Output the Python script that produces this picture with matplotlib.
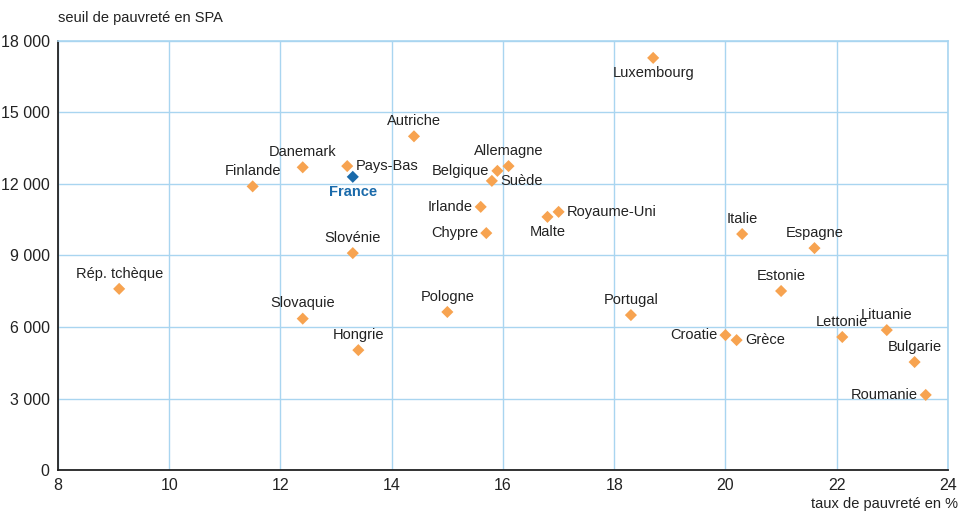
import matplotlib
matplotlib.use('Agg')
import matplotlib.pyplot as plt
from matplotlib.ticker import FuncFormatter

plt.rcParams['font.family'] = ['Liberation Sans Narrow', 'Liberation Sans', 'DejaVu Sans']

pays = ['Rép. tchèque', 'Finlande', 'Danemark', 'Pays-Bas', 'France', 'Slovénie',
        'Slovaquie', 'Hongrie', 'Autriche', 'Pologne', 'Belgique', 'Allemagne',
        'Suède', 'Irlande', 'Chypre', 'Malte', 'Royaume-Uni', 'Luxembourg',
        'Portugal', 'Croatie', 'Grèce', 'Italie', 'Espagne', 'Estonie',
        'Lettonie', 'Lituanie', 'Bulgarie', 'Roumanie']
taux = [9.1, 11.5, 12.4, 13.2, 13.3, 13.3,
        12.4, 13.4, 14.4, 15.0, 15.9, 16.1,
        15.8, 15.6, 15.7, 16.8, 17.0, 18.7,
        18.3, 20.0, 20.2, 20.3, 21.6, 21.0,
        22.1, 22.9, 23.4, 23.6]
seuil = [7600, 11900, 12700, 12750, 12300, 9100,
         6350, 5030, 14000, 6630, 12550, 12750,
         12130, 11040, 9940, 10620, 10830, 17290,
         6500, 5660, 5450, 9900, 9310, 7510,
         5580, 5870, 4530, 3150]

# label placement: where the text sits relative to the marker
place = {
    'Pays-Bas': 'right', 'France': 'below', 'Belgique': 'left', 'Suède': 'right',
    'Irlande': 'left', 'Chypre': 'left', 'Malte': 'below', 'Royaume-Uni': 'right',
    'Luxembourg': 'below', 'Croatie': 'left', 'Grèce': 'right', 'Roumanie': 'left',
}

orange = '#f7a350'
bleu = '#1a6aaa'
grille = '#a9d5f0'

fig = plt.figure(figsize=(9.63, 5.12), dpi=100)
ax = fig.add_axes([0.0602, 0.082, 0.9242, 0.838])

for p, x, y in zip(pays, taux, seuil):
    c = bleu if p == 'France' else orange
    ax.scatter(x, y, marker='D', s=38, color=c, edgecolors='none', zorder=3)
    pos = place.get(p, 'above')
    kw = dict(fontsize=10.5, color='#222222', zorder=4)
    if p == 'France':
        kw.update(color=bleu, fontweight='bold')
    if pos == 'above':
        ax.annotate(p, (x, y), xytext=(0, 6), textcoords='offset points',
                    ha='center', va='bottom', **kw)
    elif pos == 'below':
        ax.annotate(p, (x, y), xytext=(0, -6), textcoords='offset points',
                    ha='center', va='top', **kw)
    elif pos == 'right':
        ax.annotate(p, (x, y), xytext=(6, 0), textcoords='offset points',
                    ha='left', va='center', **kw)
    else:
        ax.annotate(p, (x, y), xytext=(-6, 0), textcoords='offset points',
                    ha='right', va='center', **kw)

ax.set_xlim(8, 24)
ax.set_ylim(0, 18000)
ax.set_xticks(range(8, 25, 2))
ax.set_yticks(range(0, 18001, 3000))
ax.yaxis.set_major_formatter(FuncFormatter(lambda v, _: f'{int(v):,}'.replace(',', ' ')))
ax.grid(True, color=grille, linewidth=1)
ax.set_axisbelow(True)
ax.tick_params(length=0, labelsize=11.5, colors='#222222', pad=6)

for s in ['top', 'right']:
    ax.spines[s].set_color(grille)
    ax.spines[s].set_linewidth(1.2)
for s in ['left', 'bottom']:
    ax.spines[s].set_color('#222222')
    ax.spines[s].set_linewidth(1.3)

fig.text(0.0602, 0.965, 'seuil de pauvreté en SPA', fontsize=10.5, color='#222222',
         ha='left', va='center')
fig.text(0.995, 0.016, 'taux de pauvreté en %', fontsize=10.5, color='#222222',
         ha='right', va='center')

fig.savefig('out.png', dpi=100)
